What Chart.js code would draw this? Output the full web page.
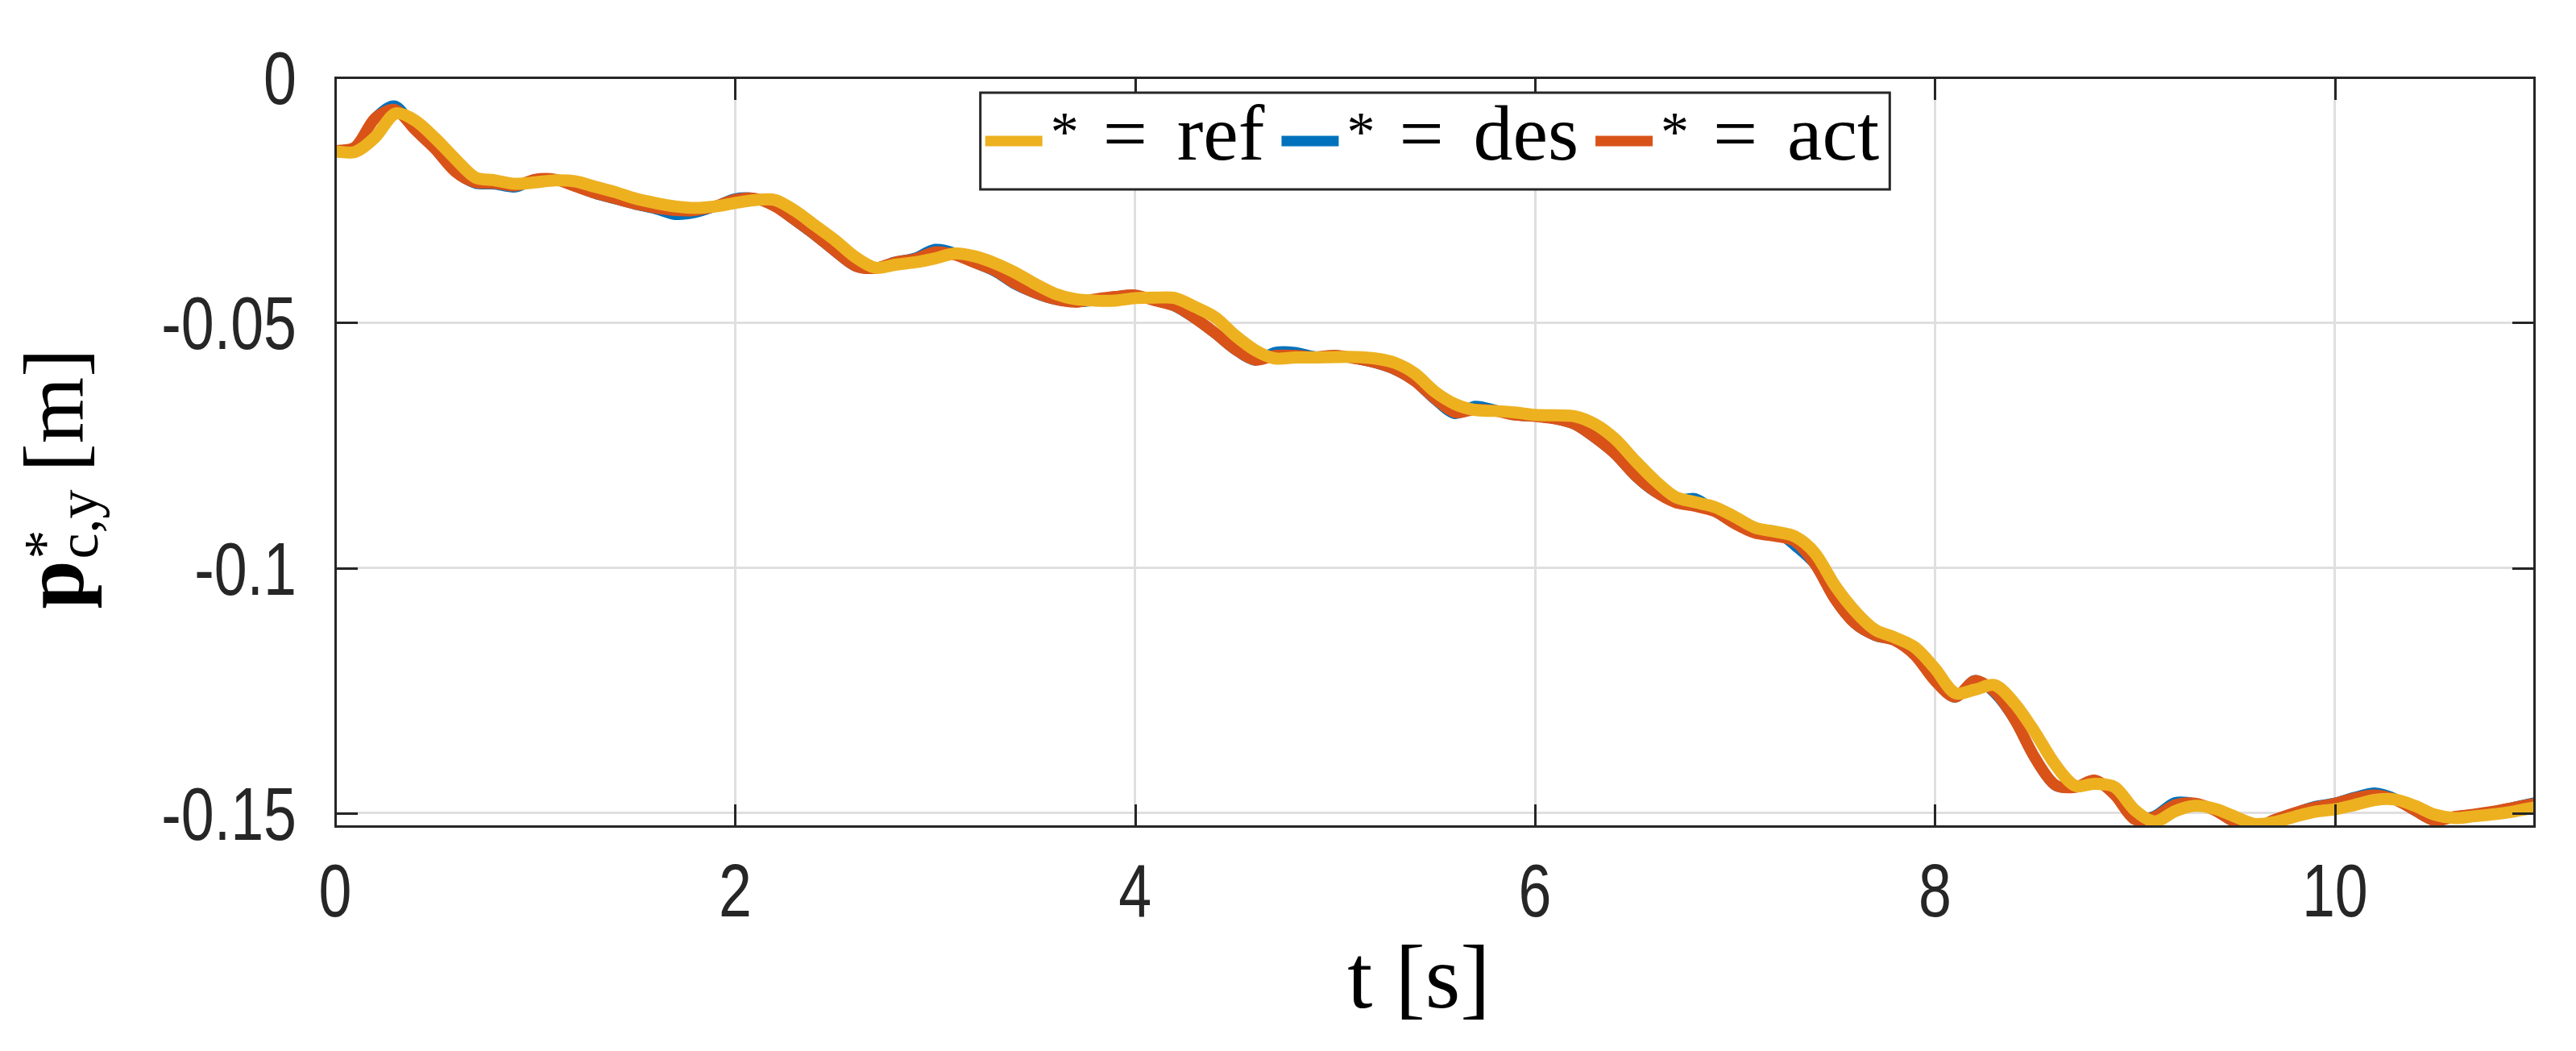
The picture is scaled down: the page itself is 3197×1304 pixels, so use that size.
<!DOCTYPE html>
<html><head><meta charset="utf-8">
<script src="https://cdn.jsdelivr.net/npm/chart.js@4.4.1/dist/chart.umd.min.js"></script>
<style>html,body{margin:0;padding:0;background:#fff;}canvas{display:block;}</style>
</head><body>
<canvas id="c" width="3197" height="1304"></canvas>
<script>
// ---- data ----
const timeS = [0,0.1,0.2,0.3,0.4,0.5,0.6,0.7,0.8,0.9,1,1.1,1.2,1.3,1.4,1.5,1.6,1.7,1.8,1.9,2,2.1,2.2,2.3,2.4,2.5,2.6,2.7,2.8,2.9,3,3.1,3.2,3.3,3.4,3.5,3.6,3.7,3.8,3.9,4,4.1,4.2,4.3,4.4,4.5,4.6,4.7,4.8,4.9,5,5.1,5.2,5.3,5.4,5.5,5.6,5.7,5.8,5.9,6,6.1,6.2,6.3,6.4,6.5,6.6,6.7,6.8,6.9,7,7.1,7.2,7.3,7.4,7.5,7.6,7.7,7.8,7.9,8,8.1,8.2,8.3,8.4,8.5,8.6,8.7,8.8,8.9,9,9.1,9.2,9.3,9.4,9.5,9.6,9.7,9.8,9.9,10,10.1,10.2,10.3,10.4,10.5,10.6,10.7,10.8,10.9,11];
const refY = [-0.0151,-0.0152,-0.0122,-0.0074,-0.0088,-0.0124,-0.0166,-0.0204,-0.0210,-0.0217,-0.0214,-0.0210,-0.0212,-0.0223,-0.0234,-0.0247,-0.0256,-0.0263,-0.0266,-0.0263,-0.0256,-0.0250,-0.0250,-0.0272,-0.0302,-0.0332,-0.0366,-0.0388,-0.0382,-0.0377,-0.0369,-0.0359,-0.0365,-0.0379,-0.0398,-0.0421,-0.0441,-0.0452,-0.0455,-0.0455,-0.0450,-0.0449,-0.0450,-0.0468,-0.0489,-0.0526,-0.0556,-0.0573,-0.0571,-0.0571,-0.0570,-0.0570,-0.0573,-0.0582,-0.0604,-0.0641,-0.0666,-0.0678,-0.0680,-0.0683,-0.0688,-0.0689,-0.0691,-0.0707,-0.0737,-0.0781,-0.0822,-0.0855,-0.0866,-0.0876,-0.0896,-0.0918,-0.0926,-0.0936,-0.0970,-0.1036,-0.1088,-0.1126,-0.1142,-0.1162,-0.1205,-0.1255,-0.1248,-0.1239,-0.1277,-0.1335,-0.1400,-0.1444,-0.1440,-0.1447,-0.1494,-0.1517,-0.1496,-0.1485,-0.1491,-0.1507,-0.1522,-0.1518,-0.1507,-0.1497,-0.1492,-0.1483,-0.1473,-0.1472,-0.1485,-0.1503,-0.1510,-0.1506,-0.1502,-0.1496,-0.1488];
const desY = [-0.0150,-0.0142,-0.0083,-0.0058,-0.0107,-0.0146,-0.0192,-0.0216,-0.0218,-0.0224,-0.0208,-0.0208,-0.0222,-0.0237,-0.0248,-0.0259,-0.0268,-0.0280,-0.0276,-0.0263,-0.0247,-0.0247,-0.0263,-0.0292,-0.0322,-0.0355,-0.0385,-0.0389,-0.0376,-0.0368,-0.0350,-0.0358,-0.0378,-0.0396,-0.0422,-0.0440,-0.0453,-0.0458,-0.0455,-0.0447,-0.0444,-0.0455,-0.0467,-0.0492,-0.0522,-0.0555,-0.0577,-0.0560,-0.0560,-0.0569,-0.0567,-0.0573,-0.0582,-0.0596,-0.0620,-0.0657,-0.0686,-0.0670,-0.0678,-0.0688,-0.0691,-0.0696,-0.0708,-0.0735,-0.0768,-0.0812,-0.0845,-0.0862,-0.0858,-0.0884,-0.0910,-0.0924,-0.0925,-0.0955,-0.0993,-0.1064,-0.1114,-0.1138,-0.1148,-0.1178,-0.1229,-0.1264,-0.1229,-0.1256,-0.1311,-0.1388,-0.1443,-0.1447,-0.1433,-0.1463,-0.1513,-0.1505,-0.1478,-0.1480,-0.1494,-0.1518,-0.1529,-0.1513,-0.1499,-0.1486,-0.1479,-0.1467,-0.1458,-0.1470,-0.1495,-0.1515,-0.1507,-0.1502,-0.1496,-0.1487,-0.1478];
const actY = [-0.0150,-0.0142,-0.0083,-0.0066,-0.0107,-0.0146,-0.0192,-0.0214,-0.0216,-0.0221,-0.0208,-0.0208,-0.0222,-0.0236,-0.0247,-0.0258,-0.0266,-0.0271,-0.0271,-0.0263,-0.0249,-0.0247,-0.0263,-0.0291,-0.0321,-0.0354,-0.0384,-0.0389,-0.0377,-0.0370,-0.0356,-0.0362,-0.0378,-0.0394,-0.0420,-0.0439,-0.0452,-0.0458,-0.0452,-0.0447,-0.0444,-0.0455,-0.0466,-0.0491,-0.0521,-0.0554,-0.0576,-0.0567,-0.0567,-0.0570,-0.0567,-0.0573,-0.0581,-0.0595,-0.0619,-0.0655,-0.0683,-0.0677,-0.0680,-0.0688,-0.0691,-0.0696,-0.0707,-0.0734,-0.0767,-0.0811,-0.0844,-0.0866,-0.0874,-0.0885,-0.0910,-0.0929,-0.0935,-0.0946,-0.0992,-0.1063,-0.1113,-0.1137,-0.1148,-0.1178,-0.1230,-0.1263,-0.1230,-0.1253,-0.1310,-0.1387,-0.1442,-0.1447,-0.1433,-0.1463,-0.1513,-0.1507,-0.1483,-0.1480,-0.1494,-0.1518,-0.1529,-0.1513,-0.1499,-0.1488,-0.1480,-0.1469,-0.1463,-0.1472,-0.1494,-0.1515,-0.1507,-0.1502,-0.1496,-0.1488,-0.1480];
const seriesNames = ['ref','des','act'];
const seriesColors = ['#EDB120','#0072BD','#D95319'];
const xTickValues = [0,2,4,6,8,10];
const xTickLabels = ['0','2','4','6','8','10'];
const yTickValues = [0,-0.05,-0.1,-0.15];
const yTickLabels = ['0','-0.05','-0.1','-0.15'];
const xLimits = [0,11];
const yLimits = [-0.1528,0];
const xTitle = 't [s]';

// ---- chart ----
const INK = '#262626';
const SERIF = '"Liberation Serif", "Times New Roman", serif';
const SANS = '"Liberation Sans", Arial, sans-serif';
const pts = (ys) => timeS.map((t,i)=>({x:t,y:ys[i]}));

const frame = {
  id:'frame',
  afterDatasetsDraw(chart){
    const {ctx, chartArea:a, scales:{x,y}} = chart;
    ctx.save();
    ctx.strokeStyle = INK; ctx.lineWidth = 3; ctx.lineCap='butt';
    const TL = 28;
    ctx.beginPath();
    xTickValues.forEach(v=>{ const px = Math.round(x.getPixelForValue(v))+0.5;
      ctx.moveTo(px,a.bottom); ctx.lineTo(px,a.bottom-TL);
      ctx.moveTo(px,a.top); ctx.lineTo(px,a.top+TL); });
    yTickValues.forEach(v=>{ const py = Math.round(y.getPixelForValue(v))+0.5;
      ctx.moveTo(a.left,py); ctx.lineTo(a.left+TL,py);
      ctx.moveTo(a.right,py); ctx.lineTo(a.right-TL,py); });
    ctx.stroke();
    ctx.strokeRect(a.left+0.5, a.top+0.5, a.right-a.left-1, a.bottom-a.top-1);

    // tick labels (Helvetica-like, slightly condensed)
    const SX = 0.8;
    ctx.fillStyle = INK; ctx.font = '92px '+SANS; ctx.textBaseline='alphabetic';
    ctx.textAlign='center';
    xTickValues.forEach((v,i)=>{ const px = x.getPixelForValue(v);
      ctx.save(); ctx.translate(px, a.bottom+111); ctx.scale(SX,1); ctx.fillText(xTickLabels[i],0,0); ctx.restore(); });
    ctx.textAlign='right';
    yTickValues.forEach((v,i)=>{ const py = y.getPixelForValue(v);
      ctx.save(); ctx.translate(a.left-48, py+33); ctx.scale(SX,1); ctx.fillText(yTickLabels[i],0,0); ctx.restore(); });

    // legend
    const lineLen=71, starOff=81, eqOff=146, labOff=238, gap=21;
    ctx.font = '98px '+SERIF;
    const widths = seriesNames.map(s=>ctx.measureText(s).width);
    const W = 6 + widths.reduce((s,w)=>s+labOff+w,0) + gap*(seriesNames.length-1) + 13;
    const cx = (a.left+a.right)/2;
    const bx = cx - W/2, by = a.top+19, bh = 120;
    ctx.fillStyle='#fff'; ctx.fillRect(bx,by,W,bh);
    ctx.lineWidth=3; ctx.strokeStyle=INK; ctx.strokeRect(bx,by,W,bh);
    let x0 = bx+6;
    seriesNames.forEach((s,i)=>{
      ctx.strokeStyle = seriesColors[i]; ctx.lineWidth=13; ctx.lineCap='butt';
      ctx.beginPath(); ctx.moveTo(x0,by+60); ctx.lineTo(x0+lineLen,by+60); ctx.stroke();
      ctx.fillStyle='#000'; ctx.textBaseline='alphabetic'; ctx.textAlign='left';
      ctx.font = '70px '+SERIF; ctx.fillText('*', x0+starOff, by+72);
      ctx.font = '98px '+SERIF; ctx.fillText('=', x0+eqOff, by+83);
      ctx.fillText(s, x0+labOff, by+83);
      x0 += labOff + widths[i] + gap;
    });

    // x title
    ctx.fillStyle='#000'; ctx.font='112px '+SERIF; ctx.textAlign='center'; ctx.textBaseline='alphabetic';
    ctx.fillText(xTitle, cx-20, 1250);

    // y title: bold p, superscript *, subscript c,y, then [m]
    ctx.save();
    ctx.translate(103, (a.top+a.bottom)/2+34);
    ctx.rotate(-Math.PI/2);
    ctx.textAlign='left';
    ctx.font='bold 108px '+SERIF; const wp = ctx.measureText('p').width;
    ctx.font='72px '+SERIF; const wsub = ctx.measureText('c,y').width, wsup = ctx.measureText('*').width;
    ctx.font='106px '+SERIF; const wm = ctx.measureText('[m]').width;
    const sp = 22;
    const total = wp + Math.max(wsub,wsup) + sp + wm;
    let tx = -total/2;
    ctx.font='bold 108px '+SERIF; ctx.fillText('p', tx, 0); tx+=wp+2;
    ctx.font='72px '+SERIF; ctx.fillText('*', tx, -24); ctx.fillText('c,y', tx, 18);
    tx += Math.max(wsub,wsup) + sp;
    ctx.font='106px '+SERIF; ctx.fillText('[m]', tx, 0);
    ctx.restore();
    ctx.restore();
  }
};

new Chart(document.getElementById('c'), {
  type:'line',
  data:{ datasets:[
    {label:seriesNames[0], data:pts(refY), borderColor:seriesColors[0], borderWidth:15, order:0},
    {label:seriesNames[1], data:pts(desY), borderColor:seriesColors[1], borderWidth:13, order:2},
    {label:seriesNames[2], data:pts(actY), borderColor:seriesColors[2], borderWidth:14, order:1},
  ]},
  options:{
    responsive:false, animation:false, devicePixelRatio:1,
    layout:{padding:{top:96,right:51,left:0,bottom:0}},
    elements:{ point:{radius:0, hoverRadius:0}, line:{tension:0.3, fill:false, borderJoinStyle:'round', borderCapStyle:'butt'} },
    plugins:{ legend:{display:false}, tooltip:{enabled:false} },
    scales:{
      x:{ type:'linear', min:xLimits[0], max:xLimits[1],
        afterFit(s){ s.height = 278; },
        afterBuildTicks(s){ s.ticks = xTickValues.map(v=>({value:v})); },
        grid:{ color:'#dfdfdf', lineWidth:3, drawTicks:false },
        border:{ display:false },
        ticks:{ display:false, callback:(v)=>xTickLabels[xTickValues.indexOf(v)] } },
      y:{ type:'linear', min:yLimits[0], max:yLimits[1],
        afterFit(s){ s.width = 416; },
        afterBuildTicks(s){ s.ticks = yTickValues.map(v=>({value:v})); },
        grid:{ color:'#dfdfdf', lineWidth:3, drawTicks:false },
        border:{ display:false },
        ticks:{ display:false, callback:(v)=>yTickLabels[yTickValues.indexOf(v)] } }
    }
  },
  plugins:[frame]
});
</script>
</body></html>
